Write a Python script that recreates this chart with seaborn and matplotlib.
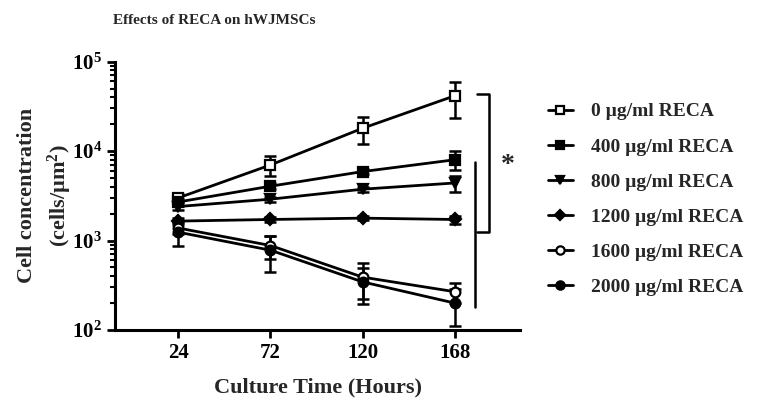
import numpy as np
import pandas as pd
import matplotlib
matplotlib.use('Agg')
import matplotlib.pyplot as plt
import seaborn as sns
from matplotlib.lines import Line2D

# --- data ---
hours = [24, 72, 120, 168]
labels = ['0 µg/ml RECA', '400 µg/ml RECA', '800 µg/ml RECA',
          '1200 µg/ml RECA', '1600 µg/ml RECA', '2000 µg/ml RECA']
means = {
    '0 µg/ml RECA':    [3000, 7000, 18000, 41500],
    '400 µg/ml RECA':  [2700, 4050, 5900, 8000],
    '800 µg/ml RECA':  [2400, 2900, 3750, 4400],
    '1200 µg/ml RECA': [1650, 1720, 1780, 1720],
    '1600 µg/ml RECA': [1380, 880, 390, 268],
    '2000 µg/ml RECA': [1240, 780, 345, 200],
}
sds = {
    '0 µg/ml RECA':    [300, 1700, 6000, 18000],
    '400 µg/ml RECA':  [250, 300, 400, 1900],
    '800 µg/ml RECA':  [200, 200, 250, 900],
    '1200 µg/ml RECA': [150, 100, 80, 180],
    '1600 µg/ml RECA': [200, 250, 170, 70],
    '2000 µg/ml RECA': [380, 330, 150, 90],
}
markers = ['s', 's', 'v', 'D', 'o', 'o']
filled = [False, True, True, True, False, True]
msizes = [7, 7, 7, 6, 7, 7]

sns.set_style('ticks')
plt.rcParams['font.family'] = ['Liberation Serif', 'DejaVu Serif']
plt.rcParams['font.weight'] = 'bold'
plt.rcParams['mathtext.fontset'] = 'custom'
plt.rcParams['mathtext.rm'] = 'Liberation Serif:bold'
plt.rcParams['mathtext.bf'] = 'Liberation Serif:bold'
plt.rcParams['mathtext.it'] = 'Liberation Serif:bold'

fig = plt.figure(figsize=(7.73, 4.03), dpi=100)
ax = fig.add_axes([0.1488, 0.1811, 0.5239, 0.6660])

handles = []
for lab, mk, fl, ms in zip(labels, markers, filled, msizes):
    df = pd.DataFrame({'Hours': hours, 'Cells': means[lab]})
    ax.errorbar(hours, means[lab], yerr=sds[lab], fmt='none', ecolor='black',
                elinewidth=1.8, capsize=4.5, capthick=1.8, zorder=2)
    fc = 'black' if fl else 'white'
    sns.lineplot(data=df, x='Hours', y='Cells', ax=ax, color='black', lw=2,
                 marker=mk, markersize=ms, markerfacecolor=fc,
                 markeredgecolor='black', markeredgewidth=1.6, zorder=3)
    handles.append(Line2D([0], [0], color='black', lw=2, marker=mk,
                          markersize=ms - 1, markerfacecolor=fc,
                          markeredgecolor='black', markeredgewidth=1.6))

ax.set_yscale('log')
ax.set_ylim(100, 100000)
ax.set_xlim(-9, 202)
ax.set_xticks(hours)
ax.set_xticklabels([str(h) for h in hours])
ax.set_yticks([1e2, 1e3, 1e4, 1e5])
ax.set_yticklabels([r'$10^{2}$', r'$10^{3}$', r'$10^{4}$', r'$10^{5}$'])
ax.tick_params(axis='both', which='major', labelsize=15, width=2, length=6,
               color='black', labelcolor='black')
ax.tick_params(axis='y', which='minor', width=1.5, length=3.5, color='black')
ax.tick_params(axis='x', which='minor', bottom=False)
for s in ['left', 'bottom']:
    ax.spines[s].set_linewidth(2.2)
    ax.spines[s].set_color('black')
sns.despine(ax=ax)

ax.set_xlabel('Culture Time (Hours)', fontsize=16, fontweight='bold', labelpad=10)
ax.set_ylabel('Cell concentration\n(cells/µm$^{2}$)', fontsize=16,
              fontweight='bold', labelpad=-2, linespacing=1.45)

fig.text(214 / 773, 1 - 20 / 403, 'Effects of RECA on hWJMSCs', ha='center',
         va='center', fontsize=11, fontweight='bold')

# significance brackets
ax.plot([179.5, 186, 186, 179.5], [43600, 43600, 1250, 1250], color='black',
        lw=1.8, clip_on=False)
ax.plot([178.8, 178.8], [7640, 182], color='black', lw=1.8, clip_on=False)
fig.text(508 / 773, 1 - 166 / 403, '*', ha='center', va='center',
         fontsize=20, fontweight='bold')

leg = fig.legend(handles, labels, loc='upper left',
                 bbox_to_anchor=(540 / 773, 1 - 95 / 403), frameon=False,
                 fontsize=14, handlelength=1.3, handletextpad=0.9,
                 labelspacing=0.9, borderaxespad=0)
for t in leg.get_texts():
    t.set_fontweight('bold')

fig.savefig('out.png', dpi=100)
